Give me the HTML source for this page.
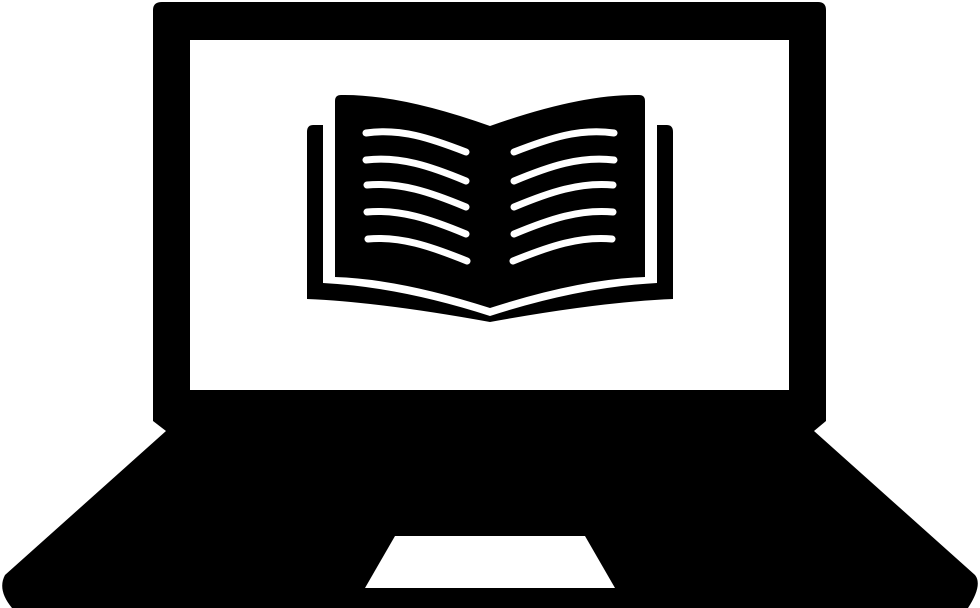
<!DOCTYPE html>
<html><head><style>html,body{margin:0;padding:0;background:#fff;}svg{display:block}</style></head>
<body>
<svg width="980" height="608" viewBox="0 0 980 608" xmlns="http://www.w3.org/2000/svg">
<path d="M162,2 L818,2 Q826,2 826,10 L826,421 L814,431 L975,575 Q983,585 968,608 L12,608 Q-3,590 5,575 L166,431 L153,421 L153,10 Q153,2 162,2 Z" fill="#000"/>
<rect x="190" y="40" width="599" height="350" fill="#fff"/>
<polygon points="395,536 585,536 615,588 365,588" fill="#fff"/>
<path d="M313,125 L323,125 L323,278 L657,278 L657,125 L667,125 Q673,125 673,132 L673,299 Q600,302 490,322 Q380,302 307,299 L307,132 Q307,125 313,125 Z" fill="#000"/>
<path d="M323,283 Q400,287 490,316 Q580,287 657,283 L657,276 L323,276 Z" fill="#fff"/>
<path d="M341,95 Q400,94 490,126 Q580,94 639,95 Q645,95 645,101 L645,277 Q580,279 490,308 Q400,279 335,277 L335,101 Q335,95 341,95 Z" fill="#000"/>
<g stroke="#fff" stroke-width="7" stroke-linecap="round" fill="none">
<path d="M366,133 C400,128 430,138 466,152"/>
<path d="M366,160 C400,156 430,166 466,181"/>
<path d="M367,185 C400,182 430,192 466,207"/>
<path d="M367,212 C400,209 430,219 466,234"/>
<path d="M368,239 C400,236 430,246 467,261"/>
<path d="M614,133 C580,128 550,138 514,152"/>
<path d="M614,160 C580,156 550,166 514,181"/>
<path d="M613,185 C580,182 550,192 514,207"/>
<path d="M613,212 C580,209 550,219 514,234"/>
<path d="M612,239 C580,236 550,246 513,261"/>
</g>
</svg>
</body></html>
